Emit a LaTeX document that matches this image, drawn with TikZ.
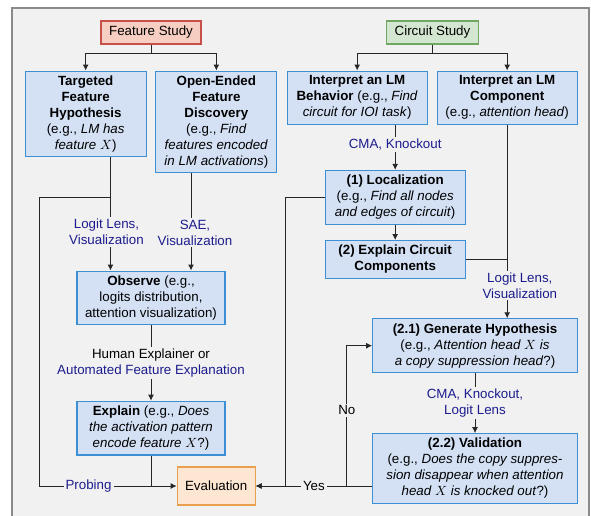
\documentclass[tikz,border=0pt]{standalone}
\usepackage{fontspec}
\setmainfont{Liberation Sans}
\usetikzlibrary{positioning,arrows.meta}

\definecolor{bgcol}{HTML}{F1F1F1}
\definecolor{framecol}{HTML}{8A8A8A}
\definecolor{boxfill}{HTML}{D4E1F5}
\definecolor{boxline}{HTML}{3D8FD4}
\definecolor{featfill}{HTML}{F6CFC2}
\definecolor{featline}{HTML}{C8504A}
\definecolor{circfill}{HTML}{D3E6CF}
\definecolor{circline}{HTML}{6FA763}
\definecolor{evalfill}{HTML}{FDE7D2}
\definecolor{evalline}{HTML}{E8A050}
\definecolor{lblblue}{HTML}{1C1C8E}

\tikzset{
  box/.style={rectangle,draw=boxline,fill=boxfill,thick,align=center,inner sep=3.5pt},
  hdr/.style={rectangle,thick,inner sep=3.5pt,minimum height=17.25pt},
  lbl/.style={fill=bgcol,inner sep=1.5pt,align=center,text=lblblue},
  arr/.style={-{Latex[length=4.5pt,width=4.5pt]}},
}

\begin{document}
\begin{tikzpicture}[x=0.75pt,y=0.75pt,line width=0.75pt,draw=black!85]
% frame
\useasboundingbox (0,0) rectangle (591,-516);
\draw[framecol,fill=bgcol,line width=1pt] (12,-8) rectangle (589,-530);

% headers
\node[hdr,fill=featfill,draw=featline,minimum width=75pt] (feat) at (151,-32.5) {Feature Study};
\node[hdr,fill=circfill,draw=circline,minimum width=69pt] (circ) at (432.5,-32.5) {Circuit Study};

% feature study side
\node[box,minimum width=90.75pt,below=19.5pt of feat,xshift=-49pt] (targ)
  {\textbf{Targeted}\\\textbf{Feature}\\\textbf{Hypothesis}\\(e.g., \textit{LM has}\\\textit{feature $X$})};
\node[box,minimum width=90.75pt,below=19.5pt of feat,xshift=49pt] (open)
  {\textbf{Open-Ended}\\\textbf{Feature}\\\textbf{Discovery}\\(e.g., \textit{Find}\\\textit{features encoded}\\\textit{in LM activations})};
\node[box,minimum width=111pt,below=169.5pt of feat] (obs)
  {\textbf{Observe} (e.g.,\\logits distribution,\\attention visualization)};
\node[box,minimum width=111pt,below=56.5pt of obs] (expl)
  {\textbf{Explain} (e.g., \textit{Does}\\\textit{the activation pattern}\\\textit{encode feature $X$}?)};
\node[rectangle,thick,draw=evalline,fill=evalfill,minimum width=58.5pt,minimum height=28.5pt] (eval) at (216.2,-486) {Evaluation};

% circuit study side
\node[box,minimum width=105pt,below=19.5pt of circ,xshift=-56.5pt] (behav)
  {\textbf{Interpret an LM}\\\textbf{Behavior} (e.g., \textit{Find}\\\textit{circuit for IOI task})};
\node[box,minimum width=105pt,below=19.5pt of circ,xshift=56pt] (comp)
  {\textbf{Interpret an LM}\\\textbf{Component}\\(e.g., \textit{attention head})};
\node[box,minimum width=105pt,below=33.75pt of behav,xshift=28.5pt] (loc)
  {\textbf{(1) Localization}\\(e.g., \textit{Find all nodes}\\\textit{and edges of circuit})};
\node[box,minimum width=105pt,below=11.5pt of loc] (expc)
  {\textbf{(2) Explain Circuit}\\\textbf{Components}};
\node[box,minimum width=153.5pt,anchor=north] (hyp) at (475,-318.3)
  {\textbf{(2.1) Generate Hypothesis}\\(e.g., \textit{Attention head $X$ is}\\\textit{a copy suppression head}?)};
\node[box,minimum width=153.5pt,below=45pt of hyp] (val)
  {\textbf{(2.2) Validation}\\(e.g., \textit{Does the copy suppres-}\\\textit{sion disappear when attention}\\\textit{head $X$ is knocked out}?)};

% junction points
\coordinate (featsplit) at (151,-54);
\coordinate (circsplit) at (432.5,-54);
\coordinate (tin) at ([xshift=-30.4pt]obs.north);
\coordinate (oin) at ([xshift=30pt]obs.north);
\coordinate (lsplit) at (tin |- loc.west);
\coordinate (ldrop) at (39,0 |- loc.west);
\coordinate (rdrop) at (285,0 |- loc.west);
\coordinate (yesout) at (val.west |- eval.east);
\coordinate (noturn) at ([xshift=-19pt]yesout);

% feature study edges
\draw (feat.south) -- (featsplit);
\draw[arr] (featsplit) -| (targ.north);
\draw[arr] (featsplit) -| (open.north);
\draw[arr] (targ.south -| tin) -- node[lbl,pos=0.66,xshift=-3pt]{Logit Lens,\\Visualization} (tin);
\draw[arr] (open.south -| oin) -- node[lbl,pos=0.61,xshift=3pt]{SAE,\\Visualization} (oin);
\draw[arr] (lsplit) -- (ldrop) |- node[lbl,pos=0.68]{Probing} (eval.west);
\draw[arr] (obs.south) -- node[lbl]{\textcolor{black}{Human Explainer or}\\Automated Feature Explanation} (expl.north);
\draw (expl.south) -- (expl.south |- eval.west);

% circuit study edges
\draw (circ.south) -- (circsplit);
\draw[arr] (circsplit) -| (behav.north);
\draw[arr] (circsplit) -| (comp.north);
\draw[arr] (behav.south -| loc.north) -- node[lbl,pos=0.43]{CMA, Knockout} (loc.north);
\draw[arr] (loc.south) -- (expc.north);
\draw[arr] (loc.west) -- (rdrop) |- (eval.east);
\draw (expc.east) -- (expc.east -| comp.south);
\draw[arr] (comp.south) -- node[lbl,pos=0.83,xshift=9.5pt]{Logit Lens,\\Visualization} (comp.south |- hyp.north);
\draw[arr] (hyp.south) -- node[lbl,pos=0.5]{CMA, Knockout,\\Logit Lens} (val.north);
\draw[arr] (yesout) -- node[lbl,text=black]{Yes} (eval.east);
\draw[arr] (noturn) |- node[lbl,text=black,pos=0.27]{No} (hyp.west);
\end{tikzpicture}
\end{document}
